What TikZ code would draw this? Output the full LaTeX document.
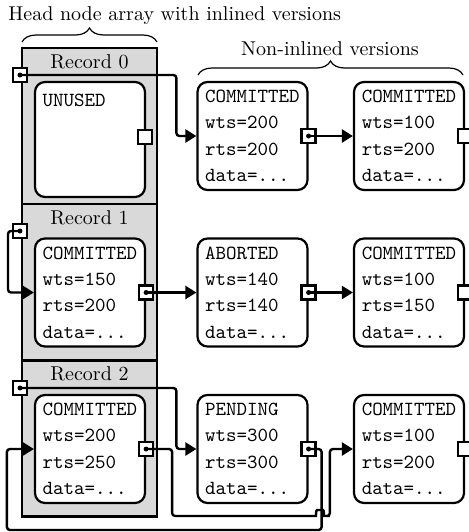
\documentclass[tikz,border=0pt]{standalone}
\usetikzlibrary{arrows.meta,decorations.pathreplacing,calc}
\begin{document}
\begin{tikzpicture}[x=0.5pt,y=-0.5pt,
  ver/.style={draw, line width=1.1pt, rounded corners=5pt, fill=white, font=\ttfamily,
    text width=47.25pt, align=left, inner xsep=3.875pt, inner ysep=0pt, minimum height=54pt},
  rec/.style={draw, line width=1.1pt, fill=black!15, minimum width=67.5pt, minimum height=78pt, inner sep=0pt},
  ptr/.style={draw, line width=1.1pt, fill=white, minimum size=7pt, inner sep=0pt},
  arr/.style={line width=1.2pt, rounded corners=1.5pt, -{Triangle[length=5.5pt,width=6.5pt]}},
  brc/.style={decorate, decoration={brace, amplitude=7pt}, line width=0.6pt},
  lbl/.style={inner sep=0pt}
]
\useasboundingbox (0,0) rectangle (469,532);
\clip (0,0) rectangle (469,532);

% titles and braces
\node[lbl, anchor=base west] (title) at (8,20) {Head node array with inlined versions};
\node[lbl, anchor=base] (nil) at (330,55) {Non-inlined versions};
\draw[brc] (22,42) -- (157,42);
\draw[brc] (198,75) -- (463,75);

% head node array
\node[rec] (rec0) at (89.5,126) {};
\node[rec] (rec1) at (89.5,282) {};
\node[rec] (rec2) at (89.5,438.5) {};
\node[lbl, anchor=base] (l0) at (89.5,68) {Record 0};
\node[lbl, anchor=base] (l1) at (89.5,224) {Record 1};
\node[lbl, anchor=base] (l2) at (89.5,380) {Record 2};

% inlined versions
\node[ver, minimum height=57.5pt] (in0) at (90,139.5) {UNUSED\\[1.2pt]\phantom{x}\\[1.2pt]\phantom{x}\\[1.2pt]\phantom{x}};
\node[ver] (in1) at (90,292.5) {COMMITTED\\[1.2pt]wts=150\\[1.2pt]rts=200\\[1.2pt]data=...};
\node[ver] (in2) at (90,449) {COMMITTED\\[1.2pt]wts=200\\[1.2pt]rts=250\\[1.2pt]data=...};

% non-inlined versions
\node[ver] (a0) at (252.5,136) {COMMITTED\\[1.2pt]wts=200\\[1.2pt]rts=200\\[1.2pt]data=...};
\node[ver] (b0) at (409,136) {COMMITTED\\[1.2pt]wts=100\\[1.2pt]rts=200\\[1.2pt]data=...};
\node[ver] (a1) at (252.5,292.5) {ABORTED\\[1.2pt]wts=140\\[1.2pt]rts=140\\[1.2pt]data=...};
\node[ver] (b1) at (409,292.5) {COMMITTED\\[1.2pt]wts=100\\[1.2pt]rts=150\\[1.2pt]data=...};
\node[ver] (a2) at (252.5,449) {PENDING\\[1.2pt]wts=300\\[1.2pt]rts=300\\[1.2pt]data=...};
\node[ver] (b2) at (409,449) {COMMITTED\\[1.2pt]wts=100\\[1.2pt]rts=200\\[1.2pt]data=...};

% pointer squares
\node[ptr] (p0) at (20,75) {};
\node[ptr] (p1) at (20,231) {};
\node[ptr] (p2) at (20,388) {};
\node[ptr] (sin0) at (145,137) {};
\node[ptr] (sin1) at (in1.east) {};
\node[ptr] (sin2) at (in2.east) {};
\node[ptr] (sa0) at (a0.east) {};
\node[ptr] (sa1) at (a1.east) {};
\node[ptr] (sa2) at (a2.east) {};
\node[ptr] (sb0) at (b0.east) {};
\node[ptr] (sb1) at (b1.east) {};
\node[ptr] (sb2) at (b2.east) {};

% connectors
\draw[arr] (p0.center) -| ($(a0.west)+(-20,0)$) -- (a0.west);
\draw[arr] (sa0.center) -- (b0.west);
\draw[arr] (p1.center) -- ++(-12,0) |- (in1.west);
\draw[arr] (sin1.center) -- (a1.west);
\draw[arr] (sa1.center) -- (b1.west);
\draw[arr] (p2.center) -| ($(a2.west)+(-20,0)$) -- (a2.west);
\draw[arr] (sa2.center) -- ++(13,0) -- ++(0,81) -| ($(in2.west)+(-27,0)$) -- (in2.west);
\draw[arr] (sin2.center) -- ++(26,0) -- ++(0,67) -- (313,516)
  .. controls (316,516) and (316,510) .. (320,510)
  .. controls (324,510) and (324,516) .. (327,516)
  -| ($(b2.west)+(-23,0)$) -- (b2.west);

% dots in pointer squares
\foreach \n in {p0,p1,p2,sin1,sin2,sa0,sa1,sa2}
  \fill (\n.center) circle[radius=2.5];
\end{tikzpicture}
\end{document}
